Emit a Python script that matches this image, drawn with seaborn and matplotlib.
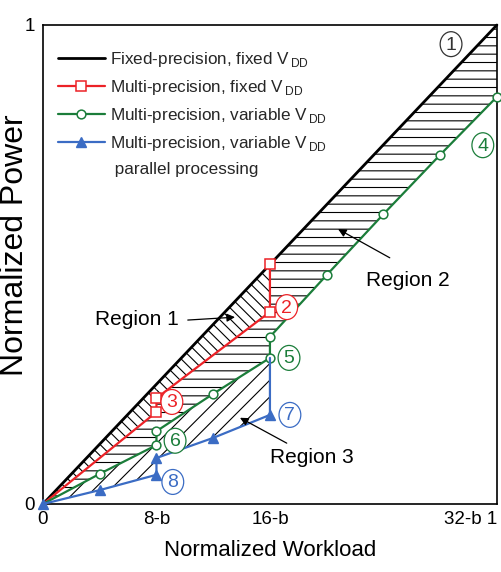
import numpy as np
import matplotlib
matplotlib.use('Agg')
import matplotlib.pyplot as plt
from matplotlib.lines import Line2D
from matplotlib.patches import Ellipse
import seaborn as sns

# values
fixed_x = [0, 1]
fixed_y = [0, 1]
red_x = [0, 0.25, 0.25, 0.5, 0.5]
red_y = [0, 0.192, 0.221, 0.401, 0.501]
green_x = [0, 0.125, 0.25, 0.25, 0.375, 0.5, 0.5, 0.625, 0.75, 0.875, 1.0]
green_y = [0, 0.063, 0.123, 0.152, 0.230, 0.305, 0.349, 0.478, 0.605, 0.729, 0.850]
blue_x = [0, 0.125, 0.25, 0.25, 0.375, 0.5, 0.5]
blue_y = [0, 0.029, 0.061, 0.096, 0.138, 0.186, 0.305]

xtick_pos = [0, 0.25, 0.5, 1]
xtick_labels = ['0', '8-b', '16-b', '32-b 1']
ytick_pos = [0, 1]
ytick_labels = ['0', '1']

legend_labels = ['Fixed-precision, fixed V$_{\\,\\mathrm{DD}}$',
                 'Multi-precision, fixed V$_{\\,\\mathrm{DD}}$',
                 'Multi-precision, variable V$_{\\,\\mathrm{DD}}$',
                 'Multi-precision, variable V$_{\\,\\mathrm{DD}}$',
                 ' parallel processing']

RED = '#ec2227'
GREEN = '#1b7d3a'
BLUE = '#3b6cc4'

sns.set_theme(style='white')
FONT = ['Liberation Sans', 'DejaVu Sans']
plt.rcParams['font.family'] = FONT
plt.rcParams['mathtext.fontset'] = 'custom'
plt.rcParams['mathtext.rm'] = 'Liberation Sans'
plt.rcParams['hatch.linewidth'] = 0.8

fig = plt.figure(figsize=(5.01, 5.72), dpi=100)
ax = fig.add_axes([0.0858, 0.1189, 0.906, 0.8374])


def pieces(xs, ys):
    # split a curve at its vertical jumps
    xs = np.asarray(xs, float)
    ys = np.asarray(ys, float)
    cut = np.where(np.diff(xs) == 0)[0] + 1
    return [(a, b) for a, b in zip(np.split(xs, cut), np.split(ys, cut)) if len(a) > 1]


def hatch_between(up, lo, hatch):
    x = np.union1d(up[0], lo[0])
    a = max(up[0][0], lo[0][0])
    b = min(up[0][-1], lo[0][-1])
    x = x[(x >= a) & (x <= b)]
    ax.fill_between(x, np.interp(x, up[0], up[1]), np.interp(x, lo[0], lo[1]),
                    facecolor='none', edgecolor='black', hatch=hatch, linewidth=0, zorder=1)


black = (np.asarray(fixed_x, float), np.asarray(fixed_y, float))
red_p = pieces(red_x, red_y)
green_p = pieces(green_x, green_y)
blue_p = pieces(blue_x, blue_y)

# Region 1
for p in red_p:
    hatch_between(black, p, '\\\\\\')
# Region 2
hatch_between(red_p[0], green_p[0], '--')
hatch_between(red_p[1], green_p[1], '--')
hatch_between(black, green_p[2], '--')
# Region 3
hatch_between(green_p[0], blue_p[0], '//')
hatch_between(green_p[1], blue_p[1], '//')

sns.lineplot(x=fixed_x, y=fixed_y, color='black', linewidth=2.0, estimator=None, sort=False,
             clip_on=False, zorder=3, ax=ax)
sns.lineplot(x=red_x, y=red_y, color=RED, linewidth=1.6, estimator=None, sort=False,
             marker='s', markersize=6.5, markerfacecolor='white', markeredgecolor=RED,
             markeredgewidth=1.1, markevery=[1, 2, 3, 4], clip_on=False, zorder=3, ax=ax)
sns.lineplot(x=green_x, y=green_y, color=GREEN, linewidth=1.6, estimator=None, sort=False,
             marker='o', markersize=6.3, markerfacecolor='white', markeredgecolor=GREEN,
             markeredgewidth=1.1, markevery=list(range(1, 11)), clip_on=False, zorder=3, ax=ax)
sns.lineplot(x=blue_x, y=blue_y, color=BLUE, linewidth=1.6, estimator=None, sort=False,
             marker='^', markersize=7.5, markerfacecolor=BLUE, markeredgecolor=BLUE,
             markeredgewidth=1, markevery=list(range(6)), clip_on=False, zorder=4, ax=ax)

handles = [
    Line2D([], [], color='black', linewidth=2.0),
    Line2D([], [], color=RED, linewidth=1.6, marker='s', markersize=6.5,
           markerfacecolor='white', markeredgecolor=RED, markeredgewidth=1.1),
    Line2D([], [], color=GREEN, linewidth=1.6, marker='o', markersize=6.3,
           markerfacecolor='white', markeredgecolor=GREEN, markeredgewidth=1.1),
    Line2D([], [], color=BLUE, linewidth=1.6, marker='^', markersize=7.5,
           markerfacecolor=BLUE, markeredgecolor=BLUE),
    Line2D([], [], color='none'),
]
ax.legend(handles, legend_labels, loc='upper left', bbox_to_anchor=(0.033, 0.948),
          frameon=False, borderpad=0, borderaxespad=0, handlelength=2.75,
          handletextpad=0.29, labelspacing=0.53, prop={'family': FONT, 'size': 12.3})

# circled labels
circ_text = ['1', '2', '3', '4', '5', '6', '7', '8']
circ_xy = [(0.899, 0.960), (0.537, 0.411), (0.284, 0.213), (0.969, 0.749),
           (0.542, 0.305), (0.291, 0.132), (0.544, 0.186), (0.286, 0.046)]
circ_col = ['#333333', RED, RED, GREEN, GREEN, GREEN, BLUE, BLUE]
for t, (cx, cy), c in zip(circ_text, circ_xy, circ_col):
    ax.add_patch(Ellipse((cx, cy), 0.048, 0.052, facecolor='white', edgecolor=c,
                         linewidth=0.9, zorder=5))
    ax.text(cx, cy - 0.002, t, color=c, ha='center', va='center', fontsize=14, zorder=6)

# region labels with arrows
reg_text = ['Region 1', 'Region 2', 'Region 3']
reg_xy = [(0.207, 0.386), (0.804, 0.466), (0.593, 0.098)]
reg_tail = [(0.319, 0.384), (0.764, 0.514), (0.537, 0.127)]
reg_head = [(0.423, 0.390), (0.650, 0.574), (0.434, 0.180)]
for t, p, tl, hd in zip(reg_text, reg_xy, reg_tail, reg_head):
    ax.text(p[0], p[1], t, ha='center', va='center', fontsize=15, color='black', zorder=6)
    ax.annotate('', xy=hd, xytext=tl,
                arrowprops=dict(arrowstyle='-|>', color='black', lw=0.9, mutation_scale=12,
                                shrinkA=0, shrinkB=0), zorder=6)

ax.set_xlim(0, 1)
ax.set_ylim(0, 1)
ax.set_xticks(xtick_pos, xtick_labels)
ax.set_yticks(ytick_pos, ytick_labels)
ax.tick_params(length=0, labelsize=13.5, colors='black')
ax.tick_params(axis='x', pad=5)
ax.tick_params(axis='y', pad=6)
ax.get_xticklabels()[-1].set_ha('right')
for s in ax.spines.values():
    s.set_color('black')
    s.set_linewidth(1.2)

ax.set_xlabel('Normalized Workload', fontsize=16, color='black')
ax.xaxis.set_label_coords(0.5, -0.075)
ax.set_ylabel('Normalized Power', fontsize=23, color='black')
ax.yaxis.set_label_coords(-0.029, 0.541)

fig.savefig('out.png', dpi=100)
